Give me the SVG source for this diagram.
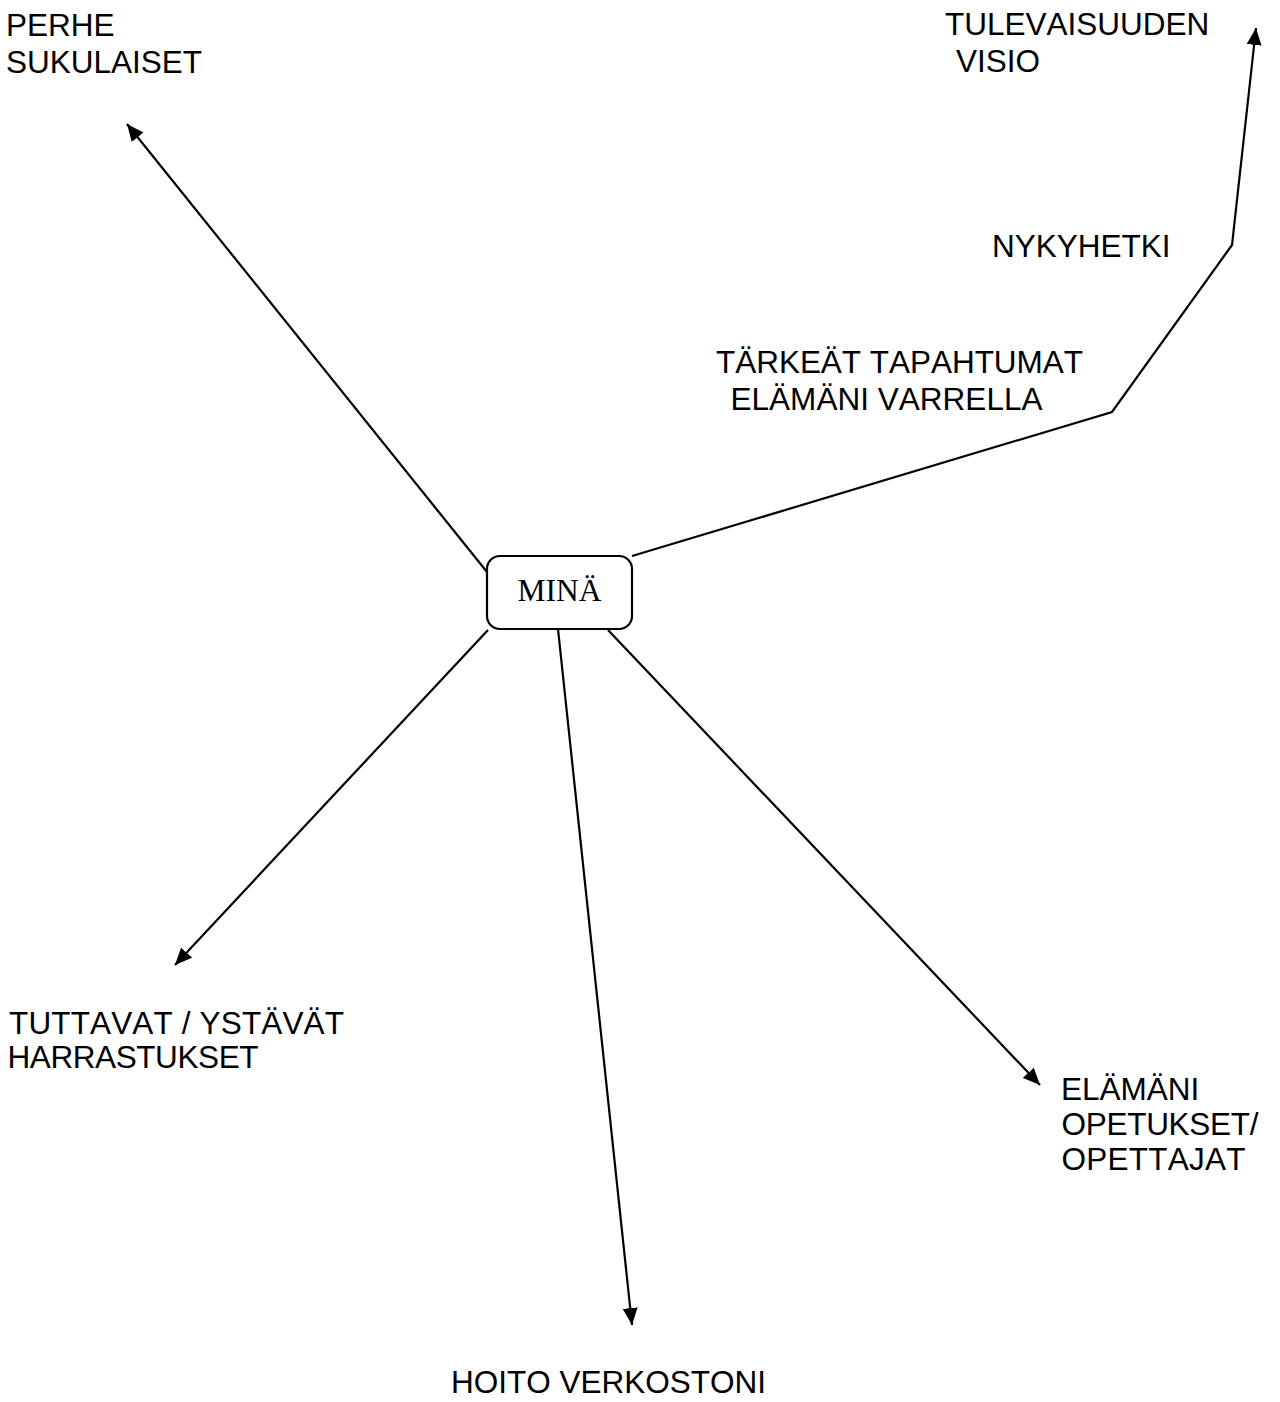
<svg xmlns="http://www.w3.org/2000/svg" width="1280" height="1402" viewBox="0 0 1280 1402">
<style>
.lbl{font-family:"Liberation Sans",Arial,sans-serif;font-size:31.5px;fill:#000;font-kerning:none}
.conn{fill:none;stroke:#000;stroke-width:2.2}
</style>
<defs>
<marker id="arr" markerUnits="userSpaceOnUse" markerWidth="18" markerHeight="16" refX="17" refY="8" orient="auto">
<path d="M0,0.5 L17,8 L0,15.5 z" fill="#000"/>
</marker>
</defs>
<rect width="1280" height="1402" fill="#fff"/>
<g id="connectors">
<line class="conn" x1="487" y1="572" x2="127" y2="124" marker-end="url(#arr)"/>
<polyline class="conn" points="632,556 1112,412 1232,245 1256,28" marker-end="url(#arr)"/>
<line class="conn" x1="488" y1="630" x2="175" y2="965" marker-end="url(#arr)"/>
<line class="conn" x1="558" y1="629" x2="632" y2="1325" marker-end="url(#arr)"/>
<line class="conn" x1="608" y1="630" x2="1040" y2="1085" marker-end="url(#arr)"/>
</g>
<g id="mina">
<rect x="487" y="556" width="145" height="73" rx="13" ry="13" fill="#fff" stroke="#000" stroke-width="2.2"/>
<text x="559.5" y="601" text-anchor="middle" font-family="'Liberation Serif','Times New Roman',serif" font-size="31.5" fill="#000">MINÄ</text>
</g>
<g id="perhe">
<text class="lbl" x="6" y="36">PERHE</text>
<text class="lbl" x="6" y="73">SUKULAISET</text>
</g>
<g id="tulevaisuus">
<text class="lbl" x="945" y="35">TULEVAISUUDEN</text>
<text class="lbl" x="956" y="72">VISIO</text>
</g>
<g id="nykyhetki">
<text class="lbl" x="992" y="257">NYKYHETKI</text>
</g>
<g id="tapahtumat">
<text class="lbl" x="716" y="373" textLength="367" lengthAdjust="spacing">TÄRKEÄT TAPAHTUMAT</text>
<text class="lbl" x="730.5" y="410" textLength="312" lengthAdjust="spacing">ELÄMÄNI VARRELLA</text>
</g>
<g id="tuttavat">
<text class="lbl" x="9" y="1034" textLength="335" lengthAdjust="spacing">TUTTAVAT / YSTÄVÄT</text>
<text class="lbl" x="7.5" y="1068" textLength="251" lengthAdjust="spacing">HARRASTUKSET</text>
</g>
<g id="opetukset">
<text class="lbl" x="1061" y="1100">ELÄMÄNI</text>
<text class="lbl" x="1061.5" y="1135" textLength="197" lengthAdjust="spacing">OPETUKSET/</text>
<text class="lbl" x="1061.5" y="1170" textLength="184" lengthAdjust="spacing">OPETTAJAT</text>
</g>
<g id="hoito">
<text class="lbl" x="451" y="1393">HOITO VERKOSTONI</text>
</g>
</svg>
